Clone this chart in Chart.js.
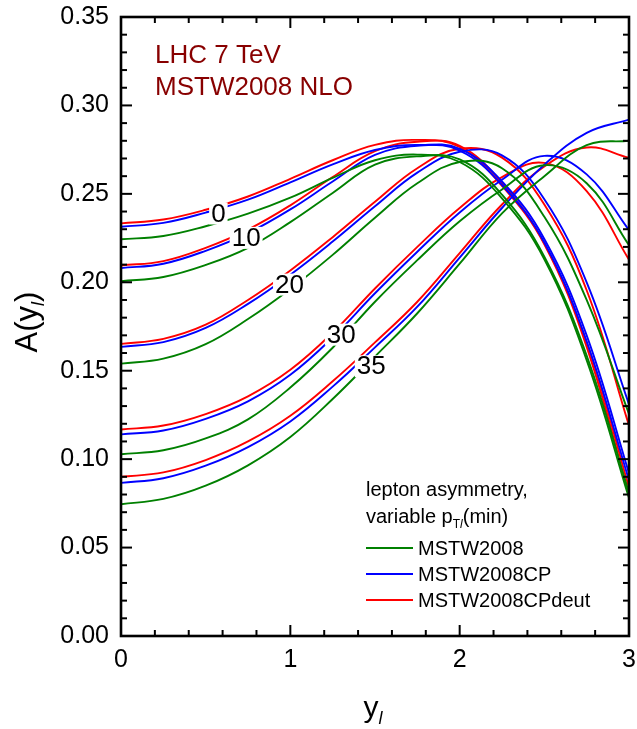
<!DOCTYPE html>
<html><head><meta charset="utf-8">
<script src="https://cdn.jsdelivr.net/npm/chart.js@4/dist/chart.umd.min.js"></script>
<style>html,body{margin:0;padding:0;background:#fff;}canvas{display:block;}</style>
</head><body>
<canvas id="c" width="637" height="729"></canvas>
<script>
// rapidity grid y_l
const yLepton = [0, 0.25, 0.5, 0.75, 1.0, 1.25, 1.5, 1.75, 2.0, 2.25, 2.5, 2.75, 3.0];

// pT(min) = 0 GeV
const mstw2008_pt0       = [0.2243,0.2262,0.2317,0.2388,0.2478,0.2590,0.2690,0.2722,0.2680,0.2475,0.2130,0.1560,0.0780];
const mstw2008cp_pt0     = [0.2314,0.2336,0.2394,0.2467,0.2565,0.2667,0.2748,0.2777,0.2745,0.2550,0.2225,0.1665,0.0880];
const mstw2008cpdeut_pt0 = [0.2333,0.2355,0.2410,0.2485,0.2585,0.2690,0.2777,0.2805,0.2765,0.2545,0.2215,0.1635,0.0800];
// pT(min) = 10 GeV
const mstw2008_pt10       = [0.2006,0.2030,0.2098,0.2195,0.2340,0.2505,0.2665,0.2712,0.2695,0.2495,0.2145,0.1585,0.0810];
const mstw2008cp_pt10     = [0.2080,0.2105,0.2178,0.2278,0.2412,0.2570,0.2720,0.2772,0.2755,0.2570,0.2245,0.1700,0.0920];
const mstw2008cpdeut_pt10 = [0.2095,0.2120,0.2195,0.2298,0.2435,0.2595,0.2741,0.2795,0.2772,0.2560,0.2220,0.1660,0.0840];
// pT(min) = 20 GeV
const mstw2008_pt20       = [0.1540,0.1568,0.1650,0.1792,0.1962,0.2155,0.2365,0.2560,0.2680,0.2645,0.2370,0.1900,0.1255];
const mstw2008cp_pt20     = [0.1635,0.1662,0.1742,0.1878,0.2043,0.2230,0.2430,0.2620,0.2738,0.2718,0.2470,0.2000,0.1310];
const mstw2008cpdeut_pt20 = [0.1652,0.1680,0.1760,0.1900,0.2067,0.2255,0.2455,0.2645,0.2755,0.2705,0.2440,0.1955,0.1190];
// pT(min) = 30 GeV
const mstw2008_pt30       = [0.1028,0.1050,0.1117,0.1225,0.1405,0.1630,0.1890,0.2125,0.2345,0.2525,0.2662,0.2560,0.2210];
const mstw2008cp_pt30     = [0.1140,0.1162,0.1228,0.1327,0.1477,0.1688,0.1938,0.2173,0.2395,0.2580,0.2715,0.2610,0.2295];
const mstw2008cpdeut_pt30 = [0.1168,0.1190,0.1255,0.1355,0.1505,0.1715,0.1965,0.2200,0.2420,0.2595,0.2675,0.2515,0.2128];
// pT(min) = 35 GeV
const mstw2008_pt35       = [0.0745,0.0775,0.0850,0.0965,0.1125,0.1340,0.1580,0.1825,0.2105,0.2390,0.2600,0.2775,0.2800];
const mstw2008cp_pt35     = [0.0866,0.0892,0.0963,0.1068,0.1213,0.1410,0.1632,0.1862,0.2140,0.2420,0.2665,0.2845,0.2920];
const mstw2008cpdeut_pt35 = [0.0900,0.0925,0.0995,0.1100,0.1245,0.1440,0.1660,0.1890,0.2165,0.2440,0.2655,0.2762,0.2704];

const pdfNames  = ['MSTW2008', 'MSTW2008CP', 'MSTW2008CPdeut'];
const pdfColors = ['#008000', '#0000FF', '#FF0000'];

// curve labels (pT min) placed in data coordinates
const curveLabels = ['0', '10', '20', '30', '35'];
const labelX = [0.575, 0.739, 0.995, 1.301, 1.478];
const labelY = [0.2389, 0.2251, 0.1987, 0.1704, 0.1525];

const xMajorTicks = [0, 1, 2, 3];
const yMajorTicks = [0.00, 0.05, 0.10, 0.15, 0.20, 0.25, 0.30, 0.35];
const xMinorStep = 0.2, yMinorStep = 0.01;

const seriesByPdf = [
  [mstw2008_pt0, mstw2008_pt10, mstw2008_pt20, mstw2008_pt30, mstw2008_pt35],
  [mstw2008cp_pt0, mstw2008cp_pt10, mstw2008cp_pt20, mstw2008cp_pt30, mstw2008cp_pt35],
  [mstw2008cpdeut_pt0, mstw2008cpdeut_pt10, mstw2008cpdeut_pt20, mstw2008cpdeut_pt30, mstw2008cpdeut_pt35]
];

const FONT = '"Liberation Sans", Arial, Helvetica, sans-serif';

const datasets = [];
seriesByPdf.forEach((group, p) => {
  group.forEach((vals, k) => {
    datasets.push({
      label: pdfNames[p] + ' pT>' + curveLabels[k],
      data: yLepton.map((x, i) => ({x: x, y: vals[i]})),
      borderColor: pdfColors[p],
      borderWidth: 1.9,
      pointRadius: 0,
      fill: false,
      tension: 0.4
    });
  });
});

function drawRuns(ctx, runs, x, y, align) {
  let total = 0;
  runs.forEach(r => { ctx.font = (r.italic ? 'italic ' : '') + r.size + 'px ' + FONT; r.w = ctx.measureText(r.t).width; total += r.w; });
  let cx = align === 'center' ? x - total / 2 : x;
  ctx.textAlign = 'left';
  runs.forEach(r => { ctx.font = (r.italic ? 'italic ' : '') + r.size + 'px ' + FONT; ctx.fillText(r.t, cx, y + (r.dy || 0)); cx += r.w; });
}

const decor = {
  id: 'decor',
  afterDatasetsDraw(chart) {
    const ctx = chart.ctx, xs = chart.scales.x, ys = chart.scales.y, a = chart.chartArea;
    ctx.save();
    ctx.font = '26px ' + FONT;
    ctx.textAlign = 'center';
    ctx.textBaseline = 'middle';
    curveLabels.forEach((t, i) => {
      const px = xs.getPixelForValue(labelX[i]), py = ys.getPixelForValue(labelY[i]);
      const w = ctx.measureText(t).width + 4, h = 22;
      ctx.fillStyle = '#fff';
      ctx.fillRect(px - w / 2, py - h / 2, w, h);
      ctx.fillStyle = '#000';
      ctx.fillText(t, px, py + 1);
    });
    ctx.textBaseline = 'alphabetic';
    ctx.fillStyle = '#880000';
    ctx.textAlign = 'left';
    ctx.font = '26px ' + FONT;
    ctx.fillText('LHC 7 TeV', a.left + 34, a.top + 46);
    ctx.fillText('MSTW2008 NLO', a.left + 34, a.top + 78);
    ctx.fillStyle = '#000';
    const lx = a.left + 245;
    drawRuns(ctx, [{t: 'lepton asymmetry,', size: 20}], lx, a.top + 479, 'left');
    drawRuns(ctx, [{t: 'variable p', size: 20}, {t: 'T', size: 12, dy: 5}, {t: 'l', size: 12, italic: true, dy: 5}, {t: '(min)', size: 20}], lx, a.top + 506, 'left');
    pdfNames.forEach((n, i) => {
      const ly = a.top + 531 + i * 26;
      ctx.strokeStyle = pdfColors[i];
      ctx.lineWidth = 1.9;
      ctx.beginPath(); ctx.moveTo(lx, ly); ctx.lineTo(lx + 47, ly); ctx.stroke();
      ctx.fillStyle = '#000';
      ctx.font = '20px ' + FONT;
      ctx.textBaseline = 'middle';
      ctx.fillText(n, lx + 52, ly + 1);
      ctx.textBaseline = 'alphabetic';
    });
    ctx.restore();
  },
  afterDraw(chart) {
    const ctx = chart.ctx, xs = chart.scales.x, ys = chart.scales.y, a = chart.chartArea;
    ctx.save();
    ctx.strokeStyle = '#000';
    ctx.lineWidth = 2;
    const majL = 11, minL = 6;
    const tick = (x1, y1, x2, y2) => { ctx.beginPath(); ctx.moveTo(x1, y1); ctx.lineTo(x2, y2); ctx.stroke(); };
    for (let v = 0; v <= 3.0001; v += xMinorStep) {
      const isMaj = xMajorTicks.some(m => Math.abs(m - v) < 1e-6);
      const L = isMaj ? majL : minL;
      const px = xs.getPixelForValue(v);
      tick(px, a.bottom, px, a.bottom - L);
      tick(px, a.top, px, a.top + L);
    }
    for (let v = 0; v <= 0.35001; v += yMinorStep) {
      const isMaj = yMajorTicks.some(m => Math.abs(m - v) < 1e-6);
      const L = isMaj ? majL : minL;
      const py = ys.getPixelForValue(v);
      tick(a.left, py, a.left + L, py);
      tick(a.right, py, a.right - L, py);
    }
    ctx.lineWidth = 2.6;
    ctx.strokeRect(a.left, a.top, a.right - a.left, a.bottom - a.top);
    ctx.fillStyle = '#000';
    ctx.textBaseline = 'alphabetic';
    drawRuns(ctx, [{t: 'y', size: 30}, {t: 'l', size: 18, italic: true, dy: 7}], (a.left + a.right) / 2 - 2, 717, 'center');
    ctx.save();
    ctx.translate(37, 322);
    ctx.rotate(-Math.PI / 2);
    drawRuns(ctx, [{t: 'A(y', size: 31}, {t: 'l', size: 18, italic: true, dy: 7}, {t: ')', size: 31}], 0, 0, 'center');
    ctx.restore();
    ctx.restore();
  }
};

new Chart(document.getElementById('c'), {
  type: 'line',
  data: {datasets: datasets},
  options: {
    responsive: false,
    animation: false,
    devicePixelRatio: 1,
    layout: {padding: {left: 0, right: 8, top: 17, bottom: 0}},
    plugins: {legend: {display: false}, tooltip: {enabled: false}},
    scales: {
      x: {
        type: 'linear', min: 0, max: 3,
        afterBuildTicks: s => { s.ticks = xMajorTicks.map(v => ({value: v})); },
        afterFit: s => { s.height = 93; s.paddingLeft = 0; s.paddingRight = 0; },
        ticks: {color: '#000', font: {family: FONT, size: 25}, padding: 9, callback: v => String(v), maxRotation: 0},
        grid: {display: false, drawTicks: false},
        border: {display: false}
      },
      y: {
        type: 'linear', min: 0, max: 0.35,
        afterBuildTicks: s => { s.ticks = yMajorTicks.map(v => ({value: v})); },
        afterFit: s => { s.width = 121; s.paddingTop = 0; s.paddingBottom = 0; },
        ticks: {color: '#000', font: {family: FONT, size: 25}, padding: 12, callback: v => v.toFixed(2)},
        grid: {display: false, drawTicks: false},
        border: {display: false}
      }
    }
  },
  plugins: [decor]
});
</script>
</body></html>
